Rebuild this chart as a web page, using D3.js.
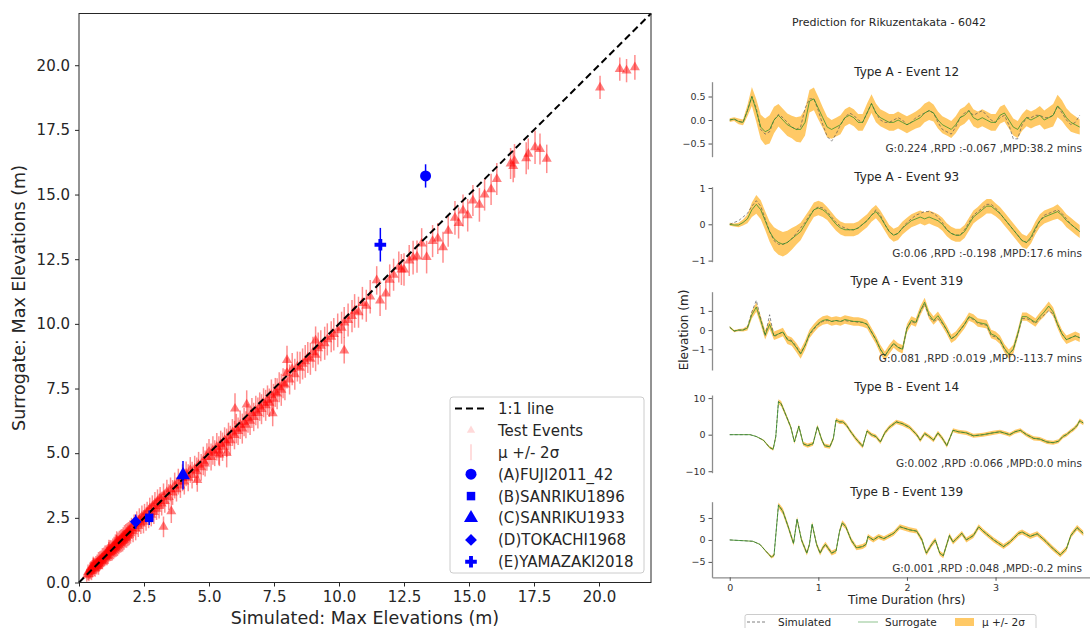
<!DOCTYPE html>
<html><head><meta charset="utf-8">
<script src="https://cdn.jsdelivr.net/npm/d3@7"></script>
<style>body{margin:0;background:#fff} svg{display:block;font-family:"DejaVu Sans",sans-serif}</style>
</head><body><svg id="c" width="1090" height="628"></svg>
<script>
// ---------------- LEFT: scatter data ----------------
const axisTicks = [0, 2.5, 5, 7.5, 10, 12.5, 15, 17.5, 20];
const testSim = [
0.30,0.35,0.38,0.42,0.45,0.48,0.50,0.52,0.55,0.58,0.60,0.62,0.65,0.68,0.70,0.72,0.75,0.78,0.80,0.82,
0.85,0.88,0.90,0.92,0.95,0.98,1.00,1.03,1.05,1.08,1.10,1.12,1.15,1.18,1.20,1.23,1.25,1.28,1.30,1.33,
1.35,1.38,1.40,1.43,1.45,1.48,1.50,1.53,1.55,1.58,1.60,1.63,1.65,1.68,1.70,1.73,1.75,1.78,1.80,1.83,
1.85,1.88,1.90,1.93,1.95,1.98,0.55,0.75,1.15,1.45,
2.02,2.08,2.12,2.18,2.22,2.28,2.32,2.38,2.42,2.48,2.52,2.58,2.62,2.68,2.72,2.78,2.82,2.88,2.92,2.98,
3.02,3.08,3.12,3.18,3.25,3.30,3.38,3.45,3.52,3.55,3.60,3.68,3.75,3.82,3.90,3.98,4.05,4.12,4.20,4.28,
4.35,4.45,4.53,4.60,4.70,4.78,4.85,4.92,3.25,4.55,
5.00,5.08,5.15,5.22,5.30,5.38,5.45,5.52,5.60,5.68,5.75,5.82,5.90,5.98,6.05,6.12,6.20,6.28,6.35,6.42,
6.50,6.58,6.65,6.72,6.80,6.88,6.95,7.02,7.10,7.18,7.25,7.32,7.40,7.48,7.55,7.62,7.70,7.78,7.85,7.92,
5.68,6.00,6.45,7.45,5.40,
8.00,8.10,8.20,8.30,8.40,8.50,8.60,8.70,8.80,8.90,9.00,9.10,9.20,9.30,9.45,9.55,9.70,9.80,9.95,10.10,
10.20,10.35,10.50,10.60,10.75,10.90,11.05,11.20,11.45,11.58,11.80,11.95,8.00,10.20,9.10,
12.10,12.30,12.50,12.70,12.85,13.00,13.18,13.37,13.60,14.00,14.20,14.46,14.60,14.77,14.95,15.15,15.40,15.60,15.85,16.07,
16.60,16.70,16.75,17.20,17.28,17.54,17.73,17.99,12.40,13.80,
20.04,20.80,21.06,21.38];
const testSur = [
0.28,0.40,0.33,0.45,0.52,0.44,0.58,0.49,0.62,0.55,0.68,0.57,0.72,0.63,0.78,0.68,0.83,0.72,0.88,0.77,
0.92,0.83,0.98,0.86,1.02,0.92,1.08,0.97,1.12,1.02,1.18,1.05,1.22,1.12,1.28,1.16,1.33,1.20,1.38,1.25,
1.42,1.30,1.48,1.35,1.52,1.40,1.58,1.45,1.62,1.50,1.68,1.55,1.72,1.60,1.78,1.65,1.82,1.70,1.88,1.74,
1.92,1.80,1.98,1.84,2.02,1.90,0.70,0.62,1.30,1.62,
2.10,1.98,2.25,2.08,2.35,2.18,2.42,2.28,2.55,2.35,2.62,2.45,2.72,2.55,2.85,2.62,2.95,2.72,3.05,2.85,
3.15,2.95,3.25,3.05,3.35,3.15,3.50,3.30,3.60,2.75,3.48,3.75,3.60,3.90,3.75,4.05,3.90,4.20,4.05,4.35,
4.15,4.40,4.30,4.55,4.45,4.70,4.60,4.85,2.15,3.96,
5.05,4.85,5.10,5.00,5.25,5.10,5.35,5.25,5.50,5.40,5.65,5.50,5.80,5.70,5.95,5.85,6.10,5.95,6.20,6.10,
6.35,6.25,6.55,6.40,6.65,6.55,6.80,6.70,6.95,6.85,7.05,6.95,7.25,7.10,7.35,7.30,7.55,7.45,7.70,7.65,
5.00,6.72,6.88,6.54,4.95,
8.10,7.85,8.25,8.05,8.35,8.30,8.45,8.55,8.70,8.65,8.90,8.80,9.05,9.15,9.25,9.40,9.50,9.60,9.75,9.85,
10.05,10.15,10.30,10.50,10.45,10.80,10.70,11.05,11.68,10.90,11.17,11.70,8.60,8.97,9.35,
11.90,12.20,12.10,12.45,12.56,12.60,13.10,12.58,13.20,12.96,13.60,14.10,13.90,14.38,14.20,14.77,14.60,15.00,15.20,15.60,
16.20,16.10,16.30,16.40,16.57,16.83,16.76,16.38,12.10,13.30,
19.14,19.85,19.79,19.92];
const testErr = [
0.25,0.30,0.28,0.32,0.30,0.35,0.28,0.30,0.33,0.30,0.28,0.35,0.30,0.32,0.30,0.28,0.35,0.30,0.33,0.30,
0.32,0.30,0.35,0.28,0.33,0.30,0.35,0.30,0.32,0.35,0.30,0.33,0.35,0.30,0.35,0.33,0.30,0.35,0.32,0.35,
0.35,0.33,0.38,0.35,0.33,0.38,0.35,0.36,0.38,0.35,0.36,0.38,0.35,0.40,0.36,0.38,0.40,0.35,0.38,0.40,
0.38,0.40,0.36,0.40,0.38,0.40,0.30,0.32,0.35,0.36,
0.40,0.42,0.38,0.45,0.40,0.42,0.45,0.40,0.43,0.45,0.42,0.45,0.40,0.45,0.43,0.45,0.42,0.46,0.45,0.43,
0.45,0.48,0.44,0.46,0.48,0.45,0.47,0.50,0.46,0.45,0.48,0.50,0.47,0.50,0.48,0.52,0.50,0.48,0.52,0.50,
0.52,0.50,0.53,0.50,0.52,0.55,0.50,0.53,0.40,0.45,
0.50,0.52,0.55,0.50,0.53,0.55,0.52,0.55,0.50,0.55,0.53,0.56,0.52,0.55,0.57,0.53,0.55,0.58,0.55,0.52,
0.56,0.55,0.58,0.55,0.57,0.60,0.55,0.58,0.56,0.60,0.57,0.55,0.60,0.58,0.56,0.60,0.58,0.62,0.58,0.60,
0.55,0.60,0.55,0.50,0.45,
0.60,0.58,0.62,0.60,0.58,0.62,0.60,0.63,0.60,0.62,0.60,0.63,0.62,0.60,0.64,0.62,0.60,0.63,0.65,0.62,
0.60,0.64,0.62,0.65,0.60,0.63,0.62,0.65,0.55,0.60,0.62,0.60,0.55,0.50,0.55,
0.62,0.60,0.63,0.60,0.65,0.62,0.60,0.63,0.62,0.60,0.62,0.65,0.60,0.62,0.63,0.60,0.65,0.62,0.60,0.62,
0.60,0.62,0.65,0.62,0.60,0.65,0.60,0.55,0.60,0.60,
0.45,0.45,0.45,0.48];

const benchNames = ["(A)FUJI2011_42","(B)SANRIKU1896","(C)SANRIKU1933","(D)TOKACHI1968","(E)YAMAZAKI2018"];
const benchSim = [13.33, 2.70, 4.00, 2.18, 11.59];
const benchSur = [15.72, 2.50, 4.15, 2.35, 13.06];
const benchErr = [0.45, 0.28, 0.55, 0.28, 0.65];

// ---------------- RIGHT: waveform data ----------------
const figTitle = "Prediction for Rikuzentakata - 6042";
const panelTitles = ["Type A - Event 12","Type A - Event 93","Type A - Event 319","Type B - Event 14","Type B - Event 139"];
const panelNotes = ["G:0.224 ,RPD :-0.067 ,MPD:38.2 mins","G:0.06 ,RPD :-0.198 ,MPD:17.6 mins",
  "G:0.081 ,RPD :0.019 ,MPD:-113.7 mins","G:0.002 ,RPD :0.066 ,MPD:0.0 mins","G:0.001 ,RPD :0.048 ,MPD:-0.2 mins"];
const timeTicks = [0,1,2,3];

// Type A panels sampled every 0.05 h from 0 to 3.95 h
const timeA = d3.range(80).map(i => i * 0.05);
const e12Sur = [0.00,0.02,-0.03,-0.05,0.20,0.50,0.20,-0.15,-0.25,-0.20,
0.00,0.10,0.00,-0.10,-0.15,-0.20,-0.20,-0.05,0.40,0.45,
0.25,0.05,-0.15,-0.20,-0.15,-0.10,0.05,0.10,0.05,-0.05,
-0.05,0.15,0.35,0.15,0.05,0.00,-0.05,-0.05,0.00,-0.05,
-0.10,-0.05,0.00,0.05,0.15,0.20,0.15,0.00,-0.10,-0.15,
-0.20,-0.10,0.05,0.10,0.20,0.05,0.00,0.05,0.00,-0.05,
-0.05,0.10,0.15,0.00,-0.15,-0.20,-0.05,0.05,0.00,0.05,
0.10,0.00,0.05,0.10,0.30,0.20,0.05,-0.05,-0.10,-0.15];
const e12Sim = [0.00,0.02,-0.03,-0.05,0.20,0.50,0.25,-0.20,-0.30,-0.25,
0.00,0.12,0.05,-0.05,-0.15,-0.20,-0.15,0.25,0.45,0.45,
0.20,-0.10,-0.35,-0.45,-0.30,-0.10,0.05,0.15,0.10,0.00,
-0.05,0.15,0.35,0.15,0.00,-0.05,-0.05,0.00,0.05,0.00,
-0.10,-0.05,0.05,0.10,0.15,0.20,0.15,-0.05,-0.20,-0.25,
-0.30,-0.15,0.05,0.15,0.20,0.10,0.15,0.20,0.10,0.00,
-0.05,0.05,0.10,-0.10,-0.40,-0.40,-0.10,0.05,0.05,0.10,
0.10,0.05,0.05,0.10,0.30,0.15,0.00,-0.10,-0.05,0.10];
const e12Sig = [0.02,0.02,0.03,0.03,0.06,0.10,0.12,0.13,0.14,0.15,
0.14,0.12,0.12,0.12,0.12,0.13,0.14,0.14,0.12,0.12,
0.12,0.11,0.11,0.10,0.10,0.10,0.09,0.09,0.09,0.09,
0.09,0.10,0.10,0.10,0.09,0.09,0.09,0.09,0.09,0.09,
0.09,0.09,0.09,0.10,0.10,0.10,0.09,0.09,0.09,0.09,
0.09,0.09,0.09,0.09,0.09,0.09,0.09,0.09,0.09,0.09,
0.09,0.09,0.09,0.09,0.09,0.09,0.09,0.09,0.09,0.09,
0.10,0.10,0.11,0.12,0.12,0.11,0.10,0.10,0.09,0.08];

const e93Sur = [0.00,-0.02,-0.02,0.05,0.15,0.40,0.55,0.40,0.10,-0.20,
-0.40,-0.50,-0.55,-0.50,-0.40,-0.30,-0.20,0.00,0.20,0.40,
0.45,0.40,0.30,0.15,0.00,-0.10,-0.15,-0.15,-0.15,-0.10,
0.00,0.10,0.25,0.35,0.20,0.00,-0.20,-0.30,-0.25,-0.10,
0.00,0.10,0.15,0.20,0.15,0.20,0.15,0.10,0.00,-0.15,
-0.25,-0.30,-0.30,-0.20,0.00,0.20,0.30,0.40,0.50,0.50,
0.40,0.30,0.15,0.00,-0.15,-0.30,-0.45,-0.50,-0.35,-0.10,
0.10,0.20,0.25,0.30,0.35,0.25,0.10,0.00,-0.10,-0.20];
const e93Sim = [0.00,0.05,0.10,0.20,0.30,0.50,0.65,0.50,0.15,-0.20,
-0.45,-0.55,-0.55,-0.50,-0.40,-0.25,-0.10,0.05,0.25,0.40,
0.48,0.45,0.35,0.20,0.05,-0.05,-0.10,-0.15,-0.15,-0.10,
0.00,0.10,0.25,0.40,0.25,0.00,-0.20,-0.30,-0.25,-0.10,
0.05,0.15,0.25,0.30,0.35,0.35,0.30,0.20,0.05,-0.15,
-0.25,-0.30,-0.30,-0.15,0.05,0.25,0.35,0.45,0.55,0.55,
0.45,0.30,0.15,0.00,-0.15,-0.30,-0.45,-0.50,-0.40,-0.15,
0.10,0.25,0.30,0.35,0.40,0.30,0.15,0.00,-0.10,-0.20];
const e93Sig = [0.02,0.02,0.03,0.04,0.06,0.10,0.13,0.13,0.13,0.14,
0.16,0.17,0.17,0.16,0.15,0.13,0.12,0.11,0.10,0.10,
0.10,0.10,0.09,0.09,0.09,0.09,0.09,0.09,0.09,0.09,
0.09,0.09,0.09,0.09,0.09,0.09,0.09,0.09,0.09,0.09,
0.09,0.09,0.09,0.09,0.09,0.09,0.09,0.09,0.09,0.09,
0.09,0.09,0.09,0.09,0.09,0.09,0.09,0.10,0.10,0.10,
0.09,0.09,0.09,0.09,0.09,0.09,0.09,0.09,0.09,0.09,
0.09,0.09,0.09,0.09,0.10,0.09,0.09,0.09,0.09,0.09];

const e319Sur = [0.15,-0.05,0.00,0.00,0.10,0.80,1.20,0.50,-0.25,0.30,
-0.30,-0.20,-0.10,-0.50,-0.60,-0.90,-1.25,-0.80,-0.20,0.10,
0.35,0.50,0.55,0.45,0.50,0.45,0.55,0.50,0.45,0.45,
0.40,0.30,-0.10,-0.50,-1.00,-1.35,-1.00,-0.70,-0.90,-1.00,
0.10,0.50,0.40,1.00,1.45,0.80,0.50,0.75,0.40,0.00,
-0.45,-0.30,0.00,0.30,0.70,0.60,0.40,0.35,0.30,-0.20,
-0.30,-0.50,-0.95,-1.25,-1.00,-0.20,0.70,0.70,0.55,0.40,
0.70,0.95,1.25,0.95,0.30,-0.20,-0.50,-0.40,-0.30,-0.40];
const e319Sim = [0.15,-0.05,0.00,0.00,0.15,0.95,1.55,0.60,-0.30,0.80,
-0.35,-0.20,-0.10,-0.45,-0.55,-0.85,-1.20,-0.80,-0.25,0.05,
0.30,0.45,0.50,0.45,0.50,0.45,0.50,0.45,0.45,0.40,
0.40,0.30,-0.10,-0.50,-1.00,-1.35,-1.00,-0.70,-0.90,-1.00,
0.10,0.45,0.35,0.95,1.35,0.70,0.45,0.60,0.35,0.00,
-0.45,-0.30,0.00,0.30,0.65,0.55,0.35,0.30,0.25,-0.30,
-0.35,-0.55,-1.00,-1.30,-1.00,-0.25,0.60,0.60,0.50,0.35,
0.60,0.80,1.00,0.85,0.30,-0.20,-0.50,-0.40,-0.30,-0.40];
const e319Sig = [0.03,0.03,0.03,0.04,0.06,0.10,0.12,0.12,0.12,0.12,
0.11,0.11,0.11,0.11,0.11,0.12,0.12,0.12,0.11,0.11,
0.11,0.11,0.11,0.11,0.11,0.11,0.11,0.11,0.11,0.11,
0.11,0.11,0.11,0.11,0.12,0.12,0.12,0.11,0.11,0.11,
0.11,0.11,0.11,0.12,0.12,0.11,0.11,0.11,0.11,0.11,
0.11,0.11,0.11,0.11,0.11,0.11,0.11,0.11,0.11,0.11,
0.11,0.11,0.11,0.12,0.12,0.11,0.11,0.11,0.11,0.11,
0.11,0.12,0.12,0.12,0.11,0.11,0.11,0.11,0.11,0.11];

// Type B panels: read at breakpoints (simulated and surrogate coincide in the picture)
const e14Time = [0,0.23,0.3,0.38,0.45,0.49,0.52,0.55,0.58,0.64,0.69,0.73,0.78,0.83,0.88,0.94,0.99,1.04,1.07,1.13,
1.17,1.2,1.24,1.28,1.32,1.36,1.42,1.5,1.55,1.6,1.65,1.7,1.75,1.8,1.88,1.95,2.03,2.11,2.15,2.2,
2.25,2.3,2.35,2.4,2.45,2.52,2.58,2.67,2.75,2.86,2.97,3.05,3.12,3.16,3.22,3.28,3.35,3.43,3.5,3.58,
3.65,3.71,3.76,3.8,3.85,3.88,3.92,3.95,3.99];
const e14Sur = [0,0,-0.5,-1.5,-3.5,-4,-0.5,9,8.5,5,2,-2,2.3,-2.5,-3,-2.5,2.2,-1.5,-3,-3.3,
-1,4,3.5,3.5,2.5,1,-1,-3.2,1,0,-0.5,-2,0.5,2,3.5,3,2,0,-1.5,0.3,
-0.5,-1.5,0.5,-1,-3,1.2,0.8,0.5,-0.3,0,0.5,0.8,0.3,0,0.8,1.2,0,-1,-1.2,-2,
-2.2,-1.8,-0.5,0,1,1.5,2.5,3.8,3.2];
const e14Sim = [0,0,-0.5,-1.5,-3.5,-4,-0.5,9.1,8.5,5,2,-2,2.3,-2.5,-3,-2.5,2.2,-1.5,-3,-3.3,
-1,4,3.5,3.5,2.5,1,-1,-3.2,1,0,-0.5,-2,0.5,2,3.5,3,2,0,-1.5,0.3,
-0.5,-1.5,0.5,-1,-3,1.2,0.8,0.5,-0.3,0,0.5,0.8,0.3,0,0.8,1.2,0,-1,-1.2,-2,
-2.2,-1.8,-0.5,0,1,1.5,2.5,3.8,3.2];
const e14Sig = [0.02,0.03,0.05,0.10,0.15,0.20,0.30,0.35,0.35,0.30,
0.28,0.28,0.28,0.28,0.28,0.28,0.28,0.28,0.28,0.28,
0.28,0.30,0.30,0.30,0.28,0.28,0.28,0.28,0.28,0.28,
0.28,0.28,0.28,0.28,0.30,0.30,0.28,0.28,0.28,0.28,
0.28,0.28,0.28,0.28,0.28,0.28,0.28,0.28,0.28,0.28,
0.28,0.28,0.28,0.28,0.28,0.28,0.28,0.28,0.28,0.28,
0.28,0.28,0.28,0.28,0.28,0.28,0.30,0.30,0.30];

const e139Time = [0,0.26,0.34,0.41,0.47,0.5,0.55,0.6,0.66,0.72,0.76,0.81,0.87,0.9,0.93,0.98,1.02,1.05,1.08,1.15,
1.2,1.24,1.27,1.31,1.37,1.43,1.5,1.54,1.56,1.62,1.68,1.74,1.85,1.92,2.03,2.11,2.17,2.2,2.22,2.28,
2.32,2.37,2.41,2.48,2.52,2.62,2.67,2.75,2.81,2.86,2.98,3.09,3.16,3.26,3.3,3.39,3.47,3.55,3.65,3.73,
3.8,3.85,3.92,3.99];
const e139Sur = [0,-0.3,-1,-2.6,-3.9,-3.5,7.9,6.5,3,-0.8,4.7,0,-3,-1,3.6,-1,-3,-1.8,-1,-3,
-2.5,2,3.9,3,0,-1.8,-1.5,-1,0.8,0,0.8,0.3,1.5,3,2.3,2,0,-2,-3,-1,
0,-3,-3.6,1,-0.5,1.5,0,1,3,2,0,-1.5,-0.5,1.5,1.8,0.8,1.4,0,-2,-3.4,
-2,1,2.8,1.5];
const e139Sim = [0,-0.3,-1,-2.6,-3.9,-3.5,8.0,6.5,3,-0.8,4.8,0,-3,-1,3.6,-1,-3,-1.8,-1,-3,
-2.5,2,3.9,3,0,-1.8,-1.5,-1,0.8,0,0.8,0.3,1.5,3,2.3,2,0,-2,-3,-1,
0,-3,-3.6,1,-0.5,1.5,0,1,3,2,0,-1.5,-0.5,1.5,1.8,0.8,1.4,0,-2,-3.4,
-2,1,2.8,1.5];
const e139Sig = [0.02,0.03,0.05,0.10,0.15,0.20,0.30,0.35,0.30,0.28,
0.28,0.28,0.28,0.28,0.28,0.28,0.28,0.28,0.28,0.28,
0.28,0.28,0.30,0.28,0.28,0.28,0.28,0.28,0.28,0.28,
0.28,0.28,0.28,0.28,0.28,0.28,0.28,0.28,0.28,0.28,
0.28,0.28,0.28,0.28,0.28,0.28,0.28,0.28,0.28,0.28,
0.28,0.28,0.28,0.28,0.28,0.28,0.28,0.28,0.28,0.28,
0.28,0.28,0.30,0.30];

// ======================= DRAW =======================
const svg = d3.select('#c');
const FONT = '"DejaVu Sans", sans-serif';

// ---------- left scatter ----------
const x = d3.scaleLinear().domain([0, 22]).range([79, 651]);
const y = d3.scaleLinear().domain([0, 22]).range([582.5, 13.5]);
const L = svg.append('g');

const xAx = L.append('g').attr('transform', 'translate(0,582.5)')
  .call(d3.axisBottom(x).tickValues(axisTicks).tickFormat(d3.format('.1f')).tickSize(4).tickPadding(5).tickSizeOuter(0));
const yAx = L.append('g').attr('transform', 'translate(79,0)')
  .call(d3.axisLeft(y).tickValues(axisTicks).tickFormat(d3.format('.1f')).tickSize(4).tickPadding(5).tickSizeOuter(0));
[xAx, yAx].forEach(a => {
  a.select('.domain').remove();
  a.selectAll('text').attr('font-size', 15).attr('fill', '#262626').attr('font-family', FONT);
  a.selectAll('line').attr('stroke', '#262626');
});

const idx = d3.range(testSim.length);
L.append('g').selectAll('line').data(idx).join('line')
  .attr('x1', i => x(testSim[i])).attr('x2', i => x(testSim[i]))
  .attr('y1', i => y(testSur[i] - testErr[i])).attr('y2', i => y(testSur[i] + testErr[i]))
  .attr('stroke', 'red').attr('stroke-opacity', 0.45).attr('stroke-width', 1.5);
const tri = d3.symbol(d3.symbolTriangle, 44);
L.append('g').selectAll('path').data(idx).join('path')
  .attr('d', tri).attr('transform', i => `translate(${x(testSim[i])},${y(testSur[i])})`)
  .attr('fill', 'red').attr('fill-opacity', 0.5);

// 1:1 line
L.append('line').attr('x1', x(0)).attr('y1', y(0)).attr('x2', x(22)).attr('y2', y(22))
  .attr('stroke', '#000').attr('stroke-width', 2).attr('stroke-dasharray', '7,4');

// benchmark events
const benchSym = [d3.symbolCircle, d3.symbolSquare, d3.symbolTriangle, d3.symbolSquare, d3.symbolCross];
const benchSize = [95, 72, 85, 70, 75];
const benchRot = [0, 0, 0, 45, 0];
const B = L.append('g');
benchSim.forEach((s, i) => {
  B.append('line').attr('x1', x(s)).attr('x2', x(s))
    .attr('y1', y(benchSur[i] - benchErr[i])).attr('y2', y(benchSur[i] + benchErr[i]))
    .attr('stroke', '#0000ff').attr('stroke-width', 1.5);
  B.append('path').attr('d', d3.symbol(benchSym[i], benchSize[i]))
    .attr('transform', `translate(${x(s)},${y(benchSur[i])}) rotate(${benchRot[i]})`).attr('fill', '#0000ff');
});

// frame
L.append('rect').attr('x', 79).attr('y', 13.5).attr('width', 572).attr('height', 569)
  .attr('fill', 'none').attr('stroke', '#262626').attr('stroke-width', 1);

// axis labels
L.append('text').attr('x', 365).attr('y', 624).attr('text-anchor', 'middle')
  .attr('font-size', 17.5).attr('fill', '#262626').text('Simulated: Max Elevations (m)');
L.append('text').attr('transform', 'translate(25,298) rotate(-90)').attr('text-anchor', 'middle')
  .attr('font-size', 17.5).attr('fill', '#262626').text('Surrogate: Max Elevations (m)');

// legend
const lg = L.append('g');
lg.append('rect').attr('x', 450).attr('y', 397).attr('width', 194).attr('height', 176).attr('rx', 3)
  .attr('fill', '#fff').attr('fill-opacity', 0.8).attr('stroke', '#cccccc');
const legendLabels = ['1:1 line', 'Test Events', 'μ +/- 2σ'].concat(benchNames);
legendLabels.forEach((lab, i) => {
  const cy = 408.5 + i * 21.9;
  const hx = 471;
  if (i === 0) lg.append('line').attr('x1', 455).attr('x2', 488).attr('y1', cy).attr('y2', cy)
      .attr('stroke', '#000').attr('stroke-width', 2).attr('stroke-dasharray', '7,4');
  else if (i === 1) lg.append('path').attr('d', d3.symbol(d3.symbolTriangle, 30)).attr('transform', `translate(${hx},${cy})`)
      .attr('fill', 'red').attr('fill-opacity', 0.15);
  else if (i === 2) lg.append('line').attr('x1', hx).attr('x2', hx).attr('y1', cy - 8).attr('y2', cy + 8)
      .attr('stroke', 'red').attr('stroke-opacity', 0.18).attr('stroke-width', 1.5);
  else lg.append('path').attr('d', d3.symbol(benchSym[i - 3], benchSize[i - 3]))
      .attr('transform', `translate(${hx},${cy}) rotate(${benchRot[i - 3]})`)
      .attr('fill', '#0000ff');
  lg.append('text').attr('x', 498).attr('y', cy).attr('dy', '0.36em').attr('font-size', 15)
    .attr('fill', '#262626').text(lab);
});

// ---------- right panels ----------
const R = svg.append('g');
const tx = d3.scaleLinear().domain([-0.2, 4.19]).range([712, 1101]);
R.append('text').attr('x', 889).attr('y', 22).attr('dy', '0.35em').attr('text-anchor', 'middle')
  .attr('font-size', 11).attr('fill', '#262626').text(figTitle);

const panels = [
  {t: timeA, sim: e12Sim, sur: e12Sur, sig: e12Sig, dom: [-0.78, 0.815], px: [156.7, 81.7], ticks: [-0.5, 0, 0.5], fmt: '.1f', ty: 72, ny: 148},
  {t: timeA, sim: e93Sim, sur: e93Sur, sig: e93Sig, dom: [-1.03, 1.036], px: [261.7, 186.7], ticks: [-1, 0, 1], fmt: 'd', ty: 177, ny: 253},
  {t: timeA, sim: e319Sim, sur: e319Sur, sig: e319Sig, dom: [-2.08, 2.0], px: [370, 291.7], ticks: [-1, 0, 1], fmt: 'd', ty: 281, ny: 358},
  {t: e14Time, sim: e14Sim, sur: e14Sur, sig: e14Sig, dom: [-10.4, 10.85], px: [472.7, 395], ticks: [-10, 0, 10], fmt: 'd', ty: 387, ny: 463},
  {t: e139Time, sim: e139Sim, sur: e139Sur, sig: e139Sig, dom: [-8.5, 8.7], px: [577.3, 501.7], ticks: [-5, 0, 5], fmt: 'd', ty: 492, ny: 568.3}
];

panels.forEach((p, k) => {
  const g = R.append('g');
  const sy = d3.scaleLinear().domain(p.dom).range(p.px);
  const ii = d3.range(p.t.length);
  g.append('path').datum(ii)
    .attr('d', d3.area().x(i => tx(p.t[i])).y0(i => sy(p.sur[i] - 2 * p.sig[i])).y1(i => sy(p.sur[i] + 2 * p.sig[i])))
    .attr('fill', '#ffa500').attr('fill-opacity', 0.6);
  g.append('path').datum(ii)
    .attr('d', d3.line().x(i => tx(p.t[i])).y(i => sy(p.sim[i])))
    .attr('fill', 'none').attr('stroke', '#555').attr('stroke-opacity', 0.75).attr('stroke-width', 0.9).attr('stroke-dasharray', '3,2');
  g.append('path').datum(ii)
    .attr('d', d3.line().x(i => tx(p.t[i])).y(i => sy(p.sur[i])))
    .attr('fill', 'none').attr('stroke', '#1f8a1f').attr('stroke-opacity', 0.7).attr('stroke-width', 1);
  const ax = g.append('g').attr('transform', 'translate(712,0)')
    .call(d3.axisLeft(sy).tickValues(p.ticks).tickFormat(d3.format(p.fmt)).tickSize(3.5).tickPadding(3).tickSizeOuter(0));
  ax.select('.domain').attr('stroke', '#8c8c8c').attr('stroke-width', 1.3);
  ax.selectAll('line').attr('stroke', '#555');
  ax.selectAll('text').attr('font-size', 9.5).attr('fill', '#333').attr('font-family', FONT);
  g.append('text').attr('x', 906.7).attr('y', p.ty).attr('dy', '0.35em').attr('text-anchor', 'middle')
    .attr('font-size', 12).attr('fill', '#262626').text(panelTitles[k]);
  g.append('text').attr('x', 1082).attr('y', p.ny).attr('dy', '0.35em').attr('text-anchor', 'end')
    .attr('font-size', 10.5).attr('fill', '#333').text(panelNotes[k]);
  if (k === panels.length - 1) {
    const bx = g.append('g').attr('transform', `translate(0,${p.px[0]})`)
      .call(d3.axisBottom(tx).tickValues(timeTicks).tickFormat(d3.format('d')).tickSize(3.5).tickPadding(3).tickSizeOuter(0));
    bx.select('.domain').attr('stroke', '#8c8c8c').attr('stroke-width', 1.3);
    bx.selectAll('line').attr('stroke', '#555');
    bx.selectAll('text').attr('font-size', 9.5).attr('fill', '#333').attr('font-family', FONT);
  }
});

R.append('text').attr('transform', 'translate(688,330) rotate(-90)').attr('text-anchor', 'middle')
  .attr('font-size', 12).attr('fill', '#262626').text('Elevation (m)');
R.append('text').attr('x', 906.7).attr('y', 600).attr('dy', '0.35em').attr('text-anchor', 'middle')
  .attr('font-size', 12).attr('fill', '#262626').text('Time Duration (hrs)');

// bottom legend
const bl = R.append('g');
bl.append('rect').attr('x', 745).attr('y', 614.5).attr('width', 291).attr('height', 20).attr('rx', 2)
  .attr('fill', '#fff').attr('stroke', '#cccccc');
const ly = 622;
bl.append('line').attr('x1', 747).attr('x2', 767).attr('y1', ly).attr('y2', ly)
  .attr('stroke', '#555').attr('stroke-opacity', 0.75).attr('stroke-dasharray', '3,2');
bl.append('text').attr('x', 778).attr('y', ly).attr('dy', '0.35em').attr('font-size', 10.5).attr('fill', '#262626').text('Simulated');
bl.append('line').attr('x1', 858).attr('x2', 878).attr('y1', ly).attr('y2', ly)
  .attr('stroke', '#1f8a1f').attr('stroke-opacity', 0.5);
bl.append('text').attr('x', 885).attr('y', ly).attr('dy', '0.35em').attr('font-size', 10.5).attr('fill', '#262626').text('Surrogate');
bl.append('rect').attr('x', 955).attr('y', ly - 4).attr('width', 19).attr('height', 8)
  .attr('fill', '#ffa500').attr('fill-opacity', 0.6);
bl.append('text').attr('x', 982).attr('y', ly).attr('dy', '0.35em').attr('font-size', 10.5).attr('fill', '#262626').text('μ +/- 2σ');
</script></body></html>
